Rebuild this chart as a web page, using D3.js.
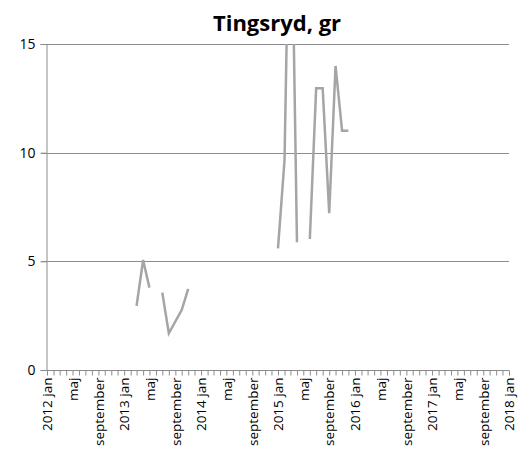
<!DOCTYPE html>
<html>
<head>
<meta charset="utf-8">
<script src="https://cdn.jsdelivr.net/npm/d3@7"></script>
<style>
  html, body { margin: 0; padding: 0; background: #fff; }
  svg { display: block; }
</style>
</head>
<body>
<svg id="chart" width="527" height="458"></svg>
<script>
// ---- data ----
const title = "Tingsryd, gr";
const months = ["2013-03","2013-04","2013-05","2013-06","2013-07","2013-08","2013-10","2013-11","2013-12",
                "2015-01","2015-02","2015-03","2015-04","2015-05","2015-06","2015-07","2015-08",
                "2015-09","2015-10","2015-11","2015-12"];
const values = [2.95, 5.06, 3.79, null, 3.56, 1.69, 2.76, 3.73, null,
                5.6, 9.66, 25, 5.88, null, 6.03, 12.96, 12.96,
                7.21, 13.99, 11.01, 11.01];
const yTicks = [0, 5, 10, 15];
const monthNames = ["jan","feb","mar","apr","maj","jun","jul","aug","september","okt","nov","dec"];
const axisStart = "2012-01", axisEnd = "2018-01";

// ---- layout ----
const svg = d3.select("#chart");
const m = { left: 47, right: 527 - 509, top: 44, bottom: 458 - 370 };
const W = 527 - m.left - m.right, H = 458 - m.top - m.bottom;
const parse = d3.timeParse("%Y-%m");

const x = d3.scaleTime().domain([parse(axisStart), parse(axisEnd)]).range([0, W]);
const y = d3.scaleLinear().domain([0, 15]).range([H, 0]);

const g = svg.append("g").attr("transform", `translate(${m.left},${m.top})`);

// gridlines
g.append("g").selectAll("line").data(yTicks.filter(d => d > 0)).join("line")
  .attr("x1", -6).attr("x2", W)
  .attr("y1", d => Math.round(y(d)) + 0.5).attr("y2", d => Math.round(y(d)) + 0.5)
  .attr("stroke", "#8c8c8c").attr("stroke-width", 1);

// y axis
const yAxis = g.append("g").attr("transform", "translate(-0.5,0)")
  .call(d3.axisLeft(y).tickValues(yTicks).tickSize(6).tickPadding(5).tickFormat(d3.format("d")));
yAxis.select(".domain").attr("stroke", "#8c8c8c");
yAxis.selectAll(".tick line").attr("stroke", "#8c8c8c");
yAxis.selectAll("text").attr("font-family", "'Open Sans', sans-serif").attr("font-size", 14).attr("fill", "#000");

// x axis
const xAxis = g.append("g").attr("transform", `translate(0,${H + 0.5})`)
  .call(d3.axisBottom(x).ticks(d3.timeMonth.every(1)).tickSize(5).tickSizeOuter(0)
    .tickFormat(d => {
      const mo = d.getMonth();
      if (mo === 0) return d.getFullYear() + " jan";
      if (mo % 4 === 0) return monthNames[mo];
      return "";
    }));
xAxis.select(".domain").attr("stroke", "#8c8c8c").attr("d", `M-6,0H${W}`);
xAxis.selectAll(".tick line").attr("stroke", "#8c8c8c");
xAxis.selectAll("text")
  .attr("font-family", "'Open Sans', sans-serif").attr("font-size", 13.5).attr("fill", "#000")
  .attr("transform", "rotate(-90)")
  .attr("text-anchor", "end")
  .attr("x", -7).attr("y", 0).attr("dy", "0.35em");

// clip
svg.append("defs").append("clipPath").attr("id", "plotclip")
  .append("rect").attr("x", -2).attr("y", 0).attr("width", W + 4).attr("height", H);

const data = months.map((d, i) => ({ date: parse(d), value: values[i] }));
const line = d3.line().defined(d => d.value != null)
  .x(d => x(d.date)).y(d => y(d.value));

g.append("path").datum(data)
  .attr("clip-path", "url(#plotclip)")
  .attr("fill", "none").attr("stroke", "#a5a5a5").attr("stroke-width", 2.5)
  .attr("stroke-linejoin", "miter").attr("d", line);

// title
svg.append("text").attr("x", 277).attr("y", 31).attr("text-anchor", "middle")
  .attr("font-family", "'Open Sans', sans-serif").attr("font-weight", "bold").attr("font-size", 22)
  .text(title);
</script>
</body>
</html>
